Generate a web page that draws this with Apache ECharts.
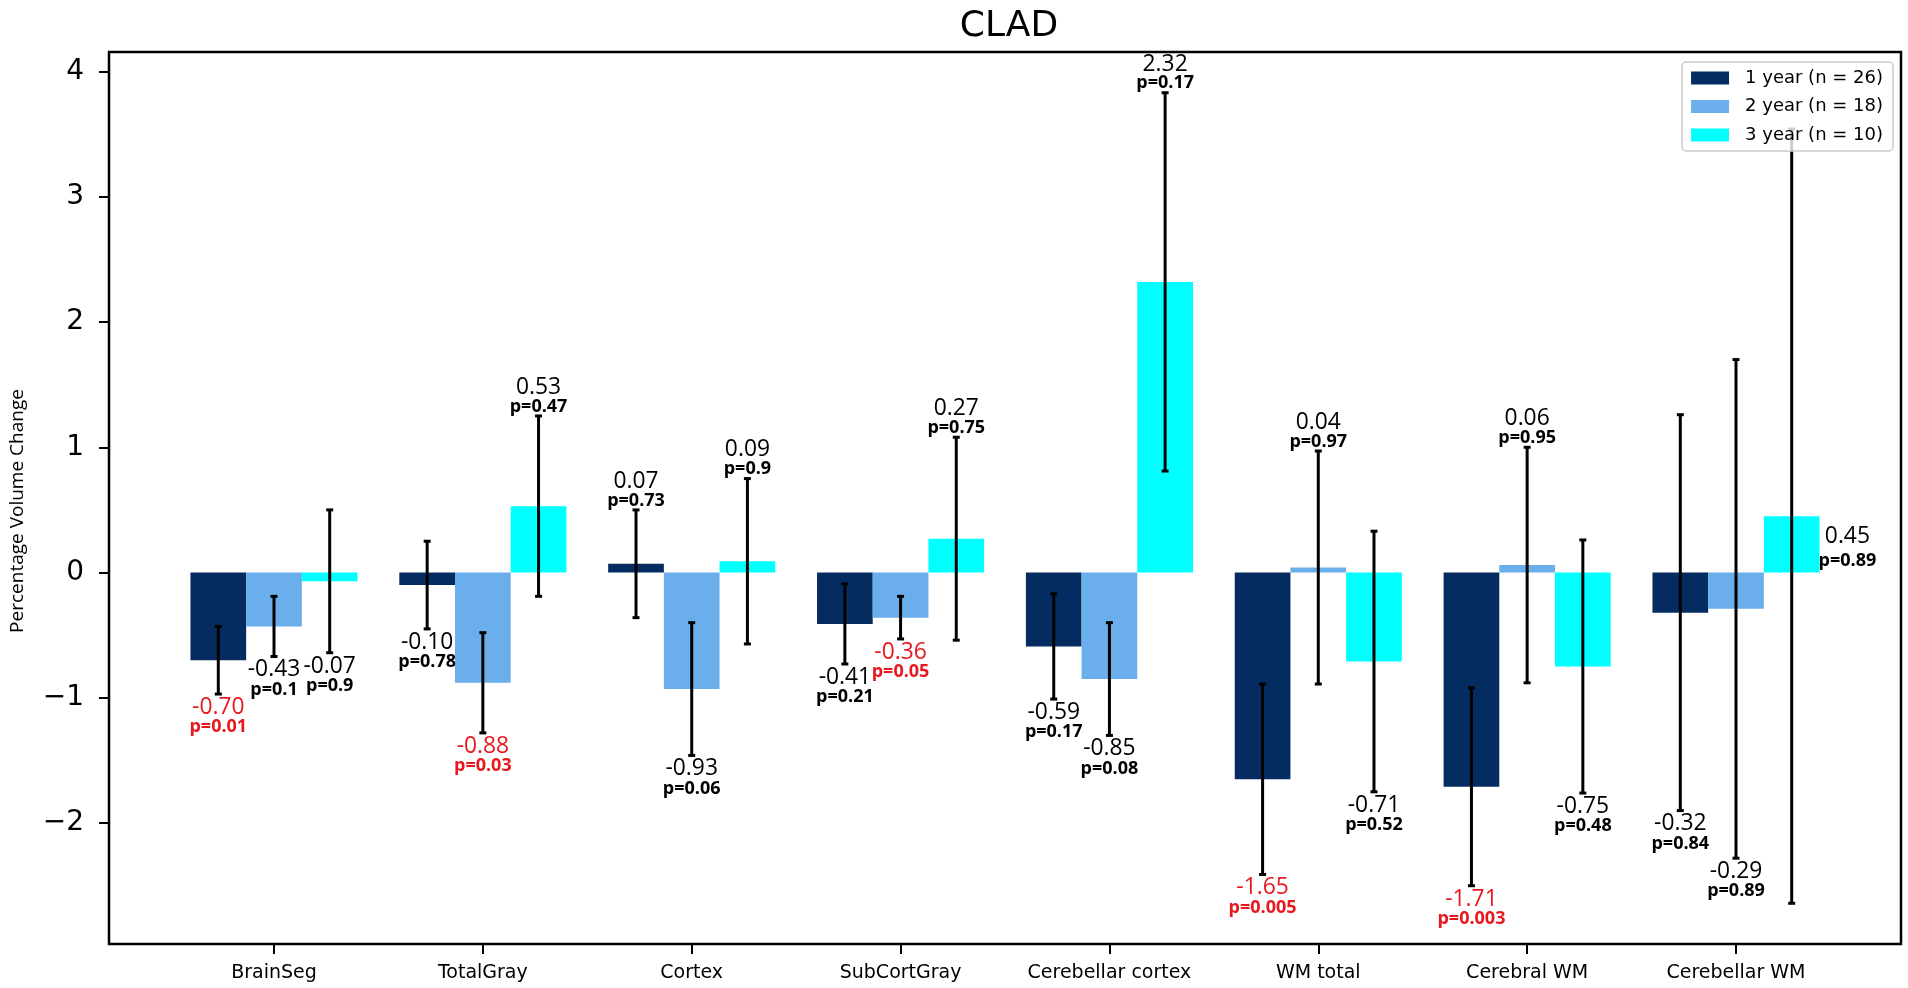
<!DOCTYPE html>
<html><head><meta charset="utf-8">
<script src="https://cdn.jsdelivr.net/npm/echarts@6/dist/echarts.min.js"></script>
<style>html,body{margin:0;padding:0;background:#fff}#c{width:1908px;height:988px}</style>
</head><body><div id="c"></div>
<script>
const categories = ['BrainSeg','TotalGray','Cortex','SubCortGray','Cerebellar cortex','WM total','Cerebral WM','Cerebellar WM'];
const seriesNames = ['1 year (n = 26)','2 year (n = 18)','3 year (n = 10)'];
const year1 = [-0.70,-0.10,0.07,-0.41,-0.59,-1.65,-1.71,-0.32];
const year2 = [-0.43,-0.88,-0.93,-0.36,-0.85,0.04,0.06,-0.29];
const year3 = [-0.07,0.53,0.09,0.27,2.32,-0.71,-0.75,0.45];
const err1 = [0.27,0.35,0.43,0.32,0.42,0.76,0.79,1.58];
const err2 = [0.24,0.40,0.53,0.17,0.45,0.93,0.94,1.99];
const err3 = [0.57,0.72,0.66,0.81,1.51,1.04,1.01,3.09];
const p1 = ['0.01','0.78','0.73','0.21','0.17','0.005','0.003','0.84'];
const p2 = ['0.1','0.03','0.06','0.05','0.08','0.97','0.95','0.89'];
const p3 = ['0.9','0.47','0.9','0.75','0.17','0.52','0.48','0.89'];
const yTicks = [-2,-1,0,1,2,3,4];
const xTicks = [0,1,2,3,4,5,6,7];

const values = [year1, year2, year3];
const errors = [err1, err2, err3];
const pvals = [p1, p2, p3];
const colors = ['#052c61', '#6aafeb', '#00ffff'];
const BAR_W = 0.8 / 3;
const SIG = 0.05;
const RED = '#e8191e';
const BESIDE = { series: 2, index: 7 }; // label drawn beside the bar (top is under the legend)

function makeRender(si) {
  return function (params, api) {
    const i = api.value(0), v = api.value(1), e = api.value(2);
    const pStr = pvals[si][params.dataIndex];
    const x = i + (si - 1) * BAR_W;
    const a = api.coord([x - BAR_W / 2, v]);
    const b = api.coord([x + BAR_W / 2, 0]);
    const top = api.coord([x, v + e]);
    const bot = api.coord([x, v - e]);
    const cx = top[0];
    const col = api.visual('color');
    const sig = parseFloat(pStr) <= SIG;
    const tcol = sig ? RED : '#000';
    const children = [];
    children.push({ type: 'rect', shape: { x: a[0], y: Math.min(a[1], b[1]), width: b[0] - a[0], height: Math.abs(b[1] - a[1]) }, style: { fill: col } });
    const ls = { stroke: '#000', lineWidth: 3 };
    children.push({ type: 'line', shape: { x1: cx, y1: top[1], x2: cx, y2: bot[1] }, style: ls });
    children.push({ type: 'line', shape: { x1: cx - 3.5, y1: top[1], x2: cx + 3.5, y2: top[1] }, style: ls });
    children.push({ type: 'line', shape: { x1: cx - 3.5, y1: bot[1], x2: cx + 3.5, y2: bot[1] }, style: ls });
    let lx, vy, py;
    if (si === BESIDE.series && params.dataIndex === BESIDE.index) {
      const z = api.coord([x + BAR_W, 0]);
      lx = z[0]; vy = z[1] - 36.5; py = z[1] - 11.5;
    } else if (v < 0) {
      lx = cx; vy = bot[1] + 13; py = bot[1] + 33;
    } else {
      lx = cx; vy = top[1] - 29; py = top[1] - 9.5;
    }
    children.push({ type: 'text', x: lx, y: vy, scaleX: 0.95, style: { text: v.toFixed(2), fill: tcol, fontFamily: 'Open Sans', fontSize: 24, align: 'center', verticalAlign: 'middle' } });
    children.push({ type: 'text', x: lx, y: py, style: { text: 'p=' + pStr, fill: tcol, fontFamily: 'Open Sans', fontWeight: 'bold', fontSize: 18, align: 'center', verticalAlign: 'middle' } });
    return { type: 'group', children };
  };
}

const series = seriesNames.map((name, si) => ({
  name, type: 'custom',
  itemStyle: { color: colors[si] },
  encode: { x: 0, y: 1 },
  data: categories.map((c, i) => [i, values[si][i], errors[si][i]]),
  renderItem: makeRender(si),
  clip: false
}));

const chart = echarts.init(document.getElementById('c'));
chart.setOption({
  animation: false,
  backgroundColor: '#fff',
  title: { text: 'CLAD', left: 1004, top: 4, textAlign: 'center',
    textStyle: { fontFamily: 'DejaVu Sans', fontSize: 36, fontWeight: 'normal', color: '#000' } },
  grid: { left: 107, right: 7, top: 52, bottom: 44, show: true, borderColor: '#000', borderWidth: 2.5, backgroundColor: 'transparent' },
  legend: {
    data: seriesNames, orient: 'vertical', right: 15, top: 62,
    itemWidth: 38, itemHeight: 13, itemGap: 10.5, icon: 'rect',
    padding: [7, 10, 7, 9],
    backgroundColor: 'rgba(255,255,255,0.8)', borderColor: '#cccccc', borderWidth: 1.5, borderRadius: 4,
    textStyle: { fontFamily: 'DejaVu Sans', fontSize: 18, color: '#000', lineHeight: 18, padding: [0, 0, 0, 11] },
    selectedMode: false
  },
  xAxis: {
    type: 'value', min: -0.79, max: 7.79, position: 'bottom',
    axisLine: { show: false, onZero: false }, splitLine: { show: false },
    axisTick: { show: true, customValues: xTicks, length: 10, lineStyle: { color: '#000', width: 2 } },
    axisLabel: { customValues: xTicks, formatter: v => categories[Math.round(v)], fontFamily: 'DejaVu Sans', fontSize: 19, color: '#000', margin: 20 }
  },
  yAxis: {
    type: 'value', min: -2.965, max: 4.155, position: 'left',
    name: 'Percentage Volume Change', nameLocation: 'middle', nameGap: 82,
    nameTextStyle: { fontFamily: 'Open Sans', fontSize: 19, color: '#000', padding: [0, 26, 0, 0] },
    axisLine: { show: false, onZero: false }, splitLine: { show: false },
    axisTick: { show: true, customValues: yTicks, length: 10, lineStyle: { color: '#000', width: 2 } },
    axisLabel: { customValues: yTicks, formatter: v => (v < 0 ? '\u2212' + (-v) : String(v)), fontFamily: 'DejaVu Sans', fontSize: 28, color: '#000', margin: 25 }
  },
  series
});
</script>
</body></html>
